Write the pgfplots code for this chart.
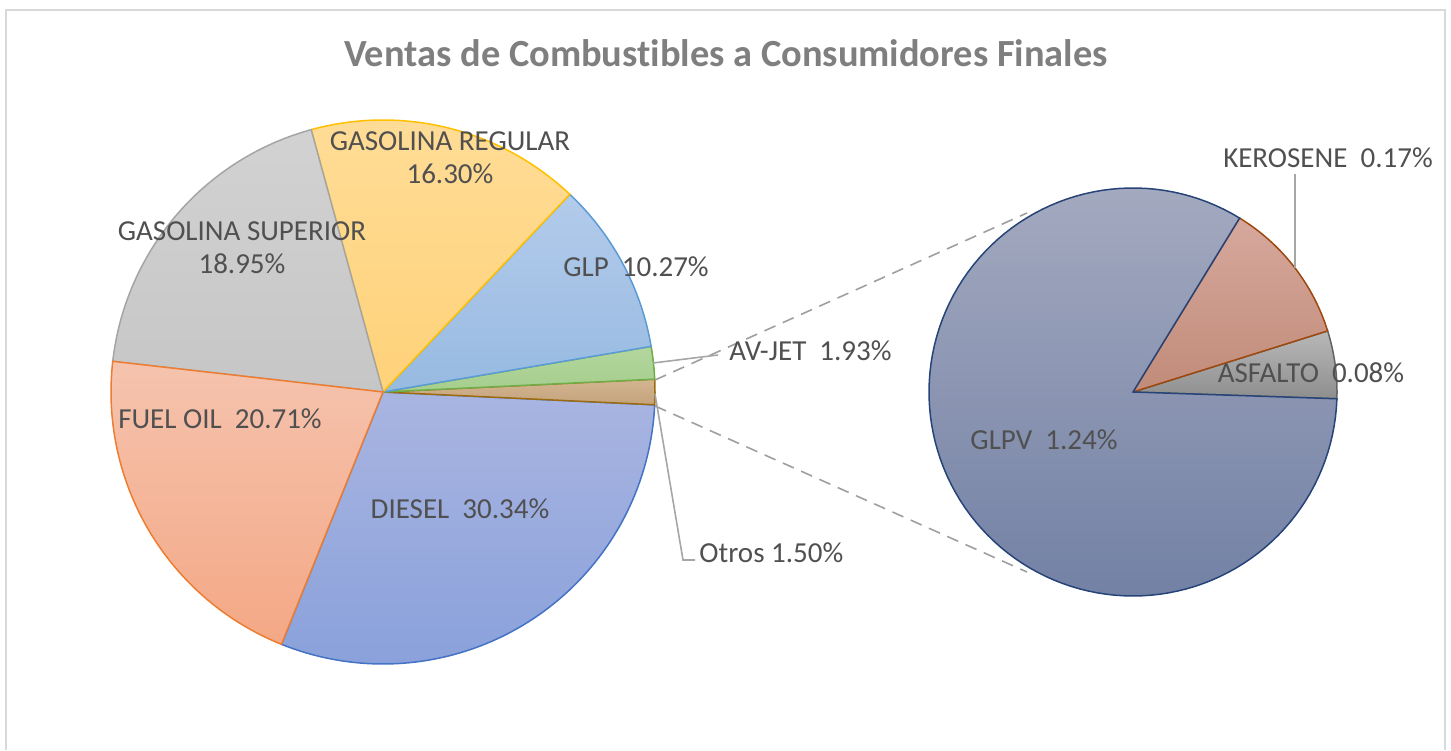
\documentclass[border=0pt]{standalone}
\usepackage{pgfplots}
\pgfplotsset{compat=1.18}
\usepackage{fontspec}
\setmainfont{Carlito}[Ligatures={NoCommon}]

\definecolor{lbl}{HTML}{505050}
\definecolor{ttl}{HTML}{7F7F7F}
\definecolor{frame}{HTML}{D9D9D9}
\definecolor{dslT}{HTML}{A9B5E1}\definecolor{dslB}{HTML}{8AA1DB}\definecolor{dslL}{HTML}{4472C4}
\definecolor{otrT}{HTML}{D3B591}\definecolor{otrB}{HTML}{C4A37C}\definecolor{otrL}{HTML}{9C6B0E}
\definecolor{avjT}{HTML}{B3D69E}\definecolor{avjB}{HTML}{A5CE8C}\definecolor{avjL}{HTML}{70AD47}
\definecolor{glpT}{HTML}{B3CBEB}\definecolor{glpB}{HTML}{97BAE1}\definecolor{glpL}{HTML}{5B9BD5}
\definecolor{regT}{HTML}{FFDC96}\definecolor{regB}{HTML}{FFD27A}\definecolor{regL}{HTML}{FFC000}
\definecolor{supT}{HTML}{D2D2D2}\definecolor{supB}{HTML}{C6C6C6}\definecolor{supL}{HTML}{A5A5A5}
\definecolor{fueT}{HTML}{F5C3AE}\definecolor{fueB}{HTML}{F4A885}\definecolor{fueL}{HTML}{ED7D31}
\definecolor{asfT}{HTML}{B8B8B8}\definecolor{asfB}{HTML}{8E8E8E}\definecolor{asfL}{HTML}{636363}
\definecolor{kerT}{HTML}{D6A89D}\definecolor{kerB}{HTML}{C18B79}\definecolor{kerL}{HTML}{9E480E}
\definecolor{gpvT}{HTML}{A3A9BF}\definecolor{gpvB}{HTML}{7381A5}\definecolor{gpvL}{HTML}{264478}

\tikzset{lab/.style={font=\fontsize{14.5}{17.5}\selectfont, text=lbl, align=center, inner sep=0pt}}

% main pie: centre (383,358), radius 272 (pixel units), slices by cumulative percent
\newcommand{\mainslice}[3]{%
  \addplot[top color=#3T, bottom color=#3B, draw=#3L, line width=0.75pt,
    domain=-111.92+3.6*#1:-111.92+3.6*(#1+#2), samples=80, variable=\t]
    ({383+272*cos(\t)},{358+272*sin(\t)}) -- (383,358) -- cycle;}
% second pie ("Otros" = 1.49): centre (1133,358), radius 204
\newcommand{\secslice}[3]{%
  \addplot[top color=#3T, bottom color=#3B, draw=#3L, line width=0.75pt,
    domain=-1.9+360*#1/1.49:-1.9+360*(#1+#2)/1.49, samples=120, variable=\t]
    ({1133+204*cos(\t)},{358+204*sin(\t)}) -- (1133,358) -- cycle;}

\begin{document}
\begin{tikzpicture}
\begin{axis}[
    width=725.5pt, height=375pt, scale only axis,
    xmin=0, xmax=1451, ymin=0, ymax=750,
    hide axis, clip=false
]
% chart frame
\draw[frame, line width=1pt] (6,0) -- (6,740) -- (1445,740) -- (1445,0);

% start (cumulative %), value (%), colour set
\mainslice{0}{30.34}{dsl}      % DIESEL
\mainslice{30.34}{1.50}{otr}   % Otros
\mainslice{31.84}{1.93}{avj}   % AV-JET
\mainslice{33.77}{10.27}{glp}  % GLP
\mainslice{44.04}{16.30}{reg}  % GASOLINA REGULAR
\mainslice{60.34}{18.95}{sup}  % GASOLINA SUPERIOR
\mainslice{79.29}{20.71}{fue}  % FUEL OIL

\secslice{0}{0.08}{asf}        % ASFALTO
\secslice{0.08}{0.17}{ker}     % KEROSENE
\secslice{0.25}{1.24}{gpv}     % GLPV

% connector lines
\draw[gray!75, dash pattern=on 6pt off 4pt, line width=0.8pt] (655,370) -- (1027,537);
\draw[gray!75, dash pattern=on 6pt off 4pt, line width=0.8pt] (655,344) -- (1027,178);

% leader lines
\draw[gray!70, line width=0.8pt] (653,387) -- (718,395);
\draw[gray!70, line width=0.8pt] (655,356) -- (683,190) -- (695,190);
\draw[gray!70, line width=0.8pt] (1295,482) -- (1295,576);

% title
\node[font=\fontsize{19.2}{23}\selectfont\bfseries, text=ttl] at (726,697)
  {Ventas de Combustibles a Consumidores Finales};

% data labels
\node[lab] at (450,592) {GASOLINA REGULAR\\[-1pt]16.30\%};
\node[lab] at (242,502) {GASOLINA SUPERIOR\\[-1pt]18.95\%};
\node[lab] at (636,483) {GLP\ \ 10.27\%};
\node[lab, anchor=west] at (729,399) {AV-JET\ \ 1.93\%};
\node[lab] at (220,331) {FUEL OIL\ \ 20.71\%};
\node[lab] at (460,241) {DIESEL\ \ 30.34\%};
\node[lab, anchor=west] at (699,197) {Otros 1.50\%};
\node[lab] at (1328,592) {KEROSENE\ \ 0.17\%};
\node[lab] at (1311,377) {ASFALTO\ \ 0.08\%};
\node[lab] at (1044,310) {GLPV\ \ 1.24\%};

\coordinate (bl) at (0,0);
\coordinate (tr) at (1451,750);
\end{axis}
\pgfresetboundingbox
\useasboundingbox (bl) rectangle (tr);
\end{tikzpicture}
\end{document}
